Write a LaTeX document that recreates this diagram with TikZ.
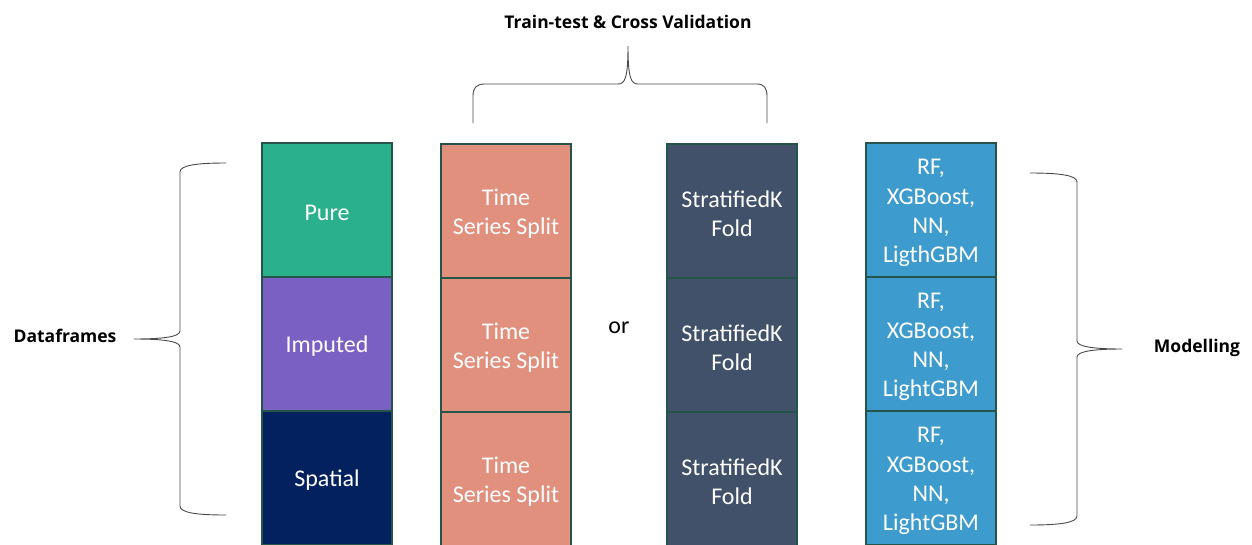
\documentclass[tikz,border=0pt]{standalone}
\usepackage{fontspec}
\setmainfont{Carlito}
\newfontfamily\headfont{Open Sans}
\usetikzlibrary{positioning}

\definecolor{puregreen}{HTML}{2BB08C}
\definecolor{imputedpurple}{HTML}{7B60C4}
\definecolor{spatialnavy}{HTML}{03215E}
\definecolor{splitsalmon}{HTML}{E1907E}
\definecolor{foldslate}{HTML}{405169}
\definecolor{modelblue}{HTML}{3D9BCE}
\definecolor{edgeteal}{HTML}{24544A}
\definecolor{bracegray}{HTML}{4A4A4A}

% first-line strut, nudges the box text a little lower
\newcommand{\tstrut}{\rule{0pt}{21.5pt}}

\begin{document}
\begin{tikzpicture}[x=1pt, y=-1pt,
    block/.style={draw=edgeteal, line width=1.4pt, minimum width=130pt,
        minimum height=134pt, inner sep=0pt, text=white, align=center,
        font=\fontsize{24}{29.3}\selectfont},
    heading/.style={font=\headfont\bfseries\fontsize{17.5}{20}\selectfont},
    brace/.style={draw=bracegray, line width=0.9pt}]

    \useasboundingbox (0,0) rectangle (1252,544);
    \clip (0,0) rectangle (1252,544);

    % Dataframe column
    \node[block, fill=puregreen] (pure) at (327,210) {\tstrut Pure};
    \node[block, fill=imputedpurple] (imputed) at (327,344) {\tstrut Imputed};
    \node[block, fill=spatialnavy] (spatial) at (327,478) {\tstrut Spatial};

    % Time series split column
    \node[block, fill=splitsalmon] (tss1) at (506,211) {\tstrut Time\\Series Split};
    \node[block, fill=splitsalmon] (tss2) at (506,345) {\tstrut Time\\Series Split};
    \node[block, fill=splitsalmon] (tss3) at (506,479) {\tstrut Time\\Series Split};

    \node[font=\fontsize{24}{29}\selectfont] (or) at (619,328) {or};

    % Stratified k-fold column
    \node[block, fill=foldslate] (skf1) at (732,211) {\tstrut StratifiedK\\Fold};
    \node[block, fill=foldslate] (skf2) at (732,345) {\tstrut StratifiedK\\Fold};
    \node[block, fill=foldslate] (skf3) at (732,479) {\tstrut StratifiedK\\Fold};

    % Model column
    \node[block, fill=modelblue] (mod1) at (931,210) {\tstrut RF,\\XGBoost,\\NN,\\LigthGBM};
    \node[block, fill=modelblue] (mod2) at (931,344) {\tstrut RF,\\XGBoost,\\NN,\\LightGBM};
    \node[block, fill=modelblue] (mod3) at (931,478) {\tstrut RF,\\XGBoost,\\NN,\\LightGBM};

    % Brace tips
    \coordinate (dftip) at (134,339);
    \coordinate (cvtip) at (628,46);
    \coordinate (modtip) at (1122,349);

    % Left brace
    \draw[brace] (226,163) .. controls (198,163) and (180,165) .. (180,172)
        -- (180,331) .. controls (180,337) and (162,339) .. (dftip)
        .. controls (162,339) and (180,341) .. (180,347)
        -- (180,506) .. controls (180,513) and (198,515) .. (226,515);

    % Top brace
    \draw[brace] (473,123) -- (473,96) .. controls (473,88) and (476,84) .. (485,84)
        -- (618,84) .. controls (625,84) and (628,78) .. (cvtip)
        .. controls (628,78) and (631,84) .. (638,84)
        -- (757,84) .. controls (764,84) and (767,88) .. (767,96) -- (767,123);

    % Right brace
    \draw[brace] (1030,173) .. controls (1058,173) and (1077,175) .. (1077,182)
        -- (1077,341) .. controls (1077,347) and (1096,349) .. (modtip)
        .. controls (1096,349) and (1077,351) .. (1077,357)
        -- (1077,516) .. controls (1077,523) and (1058,525) .. (1030,525);

    % Labels
    \node[heading] (dflabel) at (65,336) {Dataframes};
    \node[heading] (cvlabel) at (628,22) {Train-test \& Cross Validation};
    \node[heading] (modlabel) at (1197,348) {Modelling};

\end{tikzpicture}
\end{document}
